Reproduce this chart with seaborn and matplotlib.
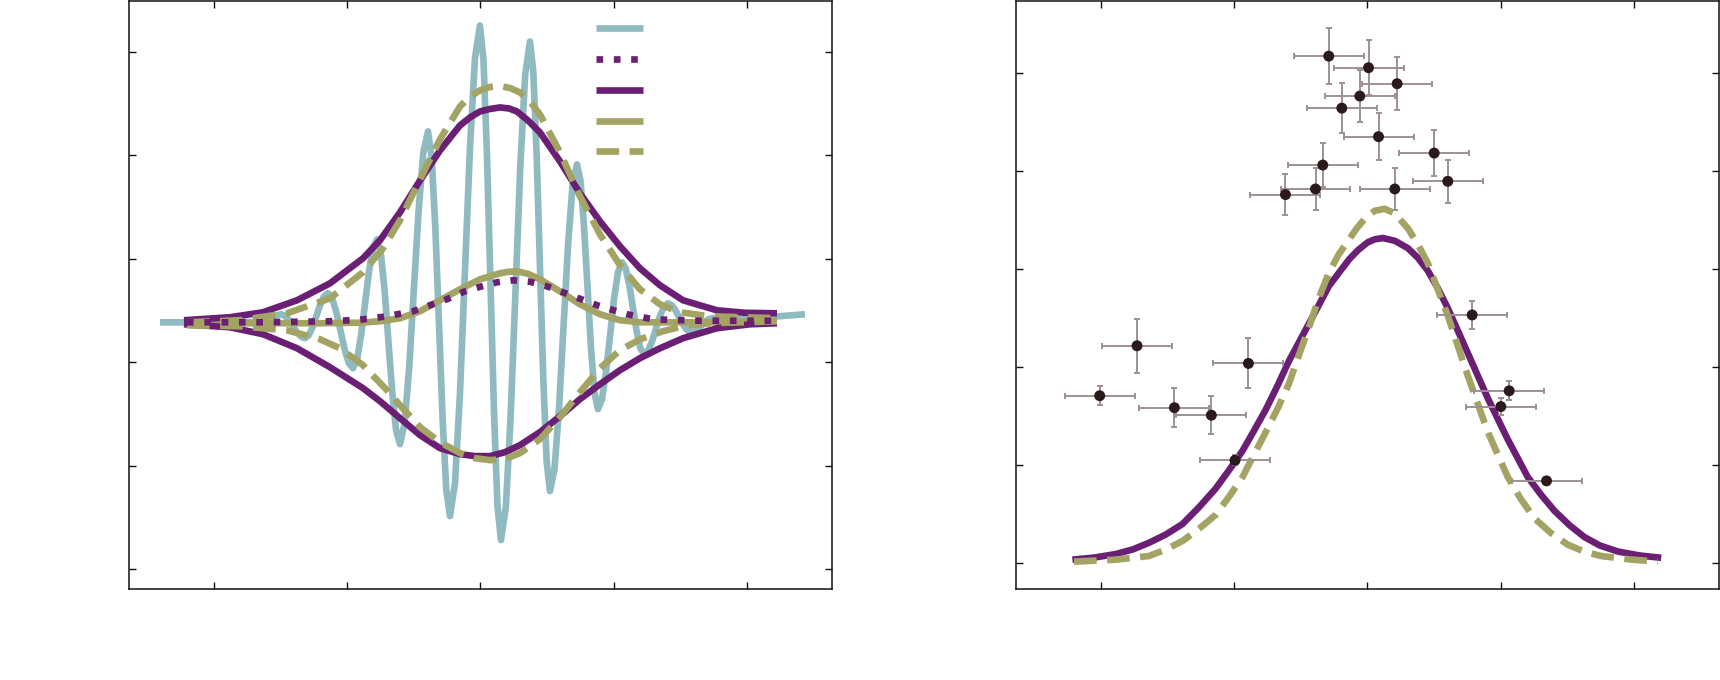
import numpy as np
import pandas as pd
import matplotlib
matplotlib.use("Agg")
import matplotlib.pyplot as plt
import seaborn as sns

# ---------------- data: left panel ----------------
wave_x = [-4.812, -3.761, -3.400, -3.200, -3.100, -2.995,
          -2.935, -2.875, -2.815, -2.755, -2.695, -2.635,
          -2.578, -2.520, -2.463, -2.405, -2.348, -2.290,
          -2.227, -2.165, -2.102, -2.039, -1.977, -1.914,
          -1.854, -1.794, -1.734, -1.674, -1.614, -1.554,
          -1.497, -1.439, -1.382, -1.324, -1.267, -1.209,
          -1.139, -1.069, -0.999, -0.928, -0.858, -0.788,
          -0.733, -0.678, -0.623, -0.568, -0.513, -0.458,
          -0.383, -0.308, -0.233, -0.158, -0.083, -0.008,
          0.045, 0.097, 0.150, 0.203, 0.255, 0.308,
          0.381, 0.453, 0.526, 0.598, 0.671, 0.743,
          0.793, 0.843, 0.893, 0.943, 0.993, 1.043,
          1.111, 1.178, 1.246, 1.314, 1.381, 1.449,
          1.502, 1.554, 1.607, 1.659, 1.712, 1.764,
          1.824, 1.884, 1.945, 2.005, 2.065, 2.125,
          2.180, 2.235, 2.290, 2.345, 2.400, 2.455,
          2.515, 2.575, 2.635, 2.695, 2.755, 2.815,
          2.873, 2.930, 2.988, 3.046, 3.103, 3.161,
          3.214, 3.266, 3.319, 3.371, 3.424, 3.476,
          3.896, 4.872]
wave_y = [0.386, 0.386, 0.390, 0.420, 0.445, 0.464,
          0.448, 0.406, 0.348, 0.290, 0.248, 0.232,
          0.261, 0.341, 0.450, 0.558, 0.638, 0.667,
          0.618, 0.486, 0.305, 0.123, -0.009, -0.058,
          0.025, 0.254, 0.565, 0.877, 1.105, 1.188,
          1.055, 0.693, 0.198, -0.297, -0.659, -0.792,
          -0.589, -0.036, 0.720, 1.476, 2.029, 2.232,
          1.983, 1.302, 0.372, -0.558, -1.239, -1.488,
          -1.170, -0.302, 0.884, 2.070, 2.938, 3.256,
          2.923, 2.012, 0.768, -0.476, -1.387, -1.720,
          -1.397, -0.515, 0.691, 1.896, 2.778, 3.101,
          2.810, 2.014, 0.928, -0.159, -0.955, -1.246,
          -1.034, -0.456, 0.334, 1.123, 1.701, 1.913,
          1.754, 1.321, 0.730, 0.138, -0.295, -0.454,
          -0.359, -0.099, 0.256, 0.611, 0.871, 0.966,
          0.906, 0.744, 0.522, 0.299, 0.137, 0.077,
          0.110, 0.200, 0.324, 0.447, 0.537, 0.570,
          0.551, 0.500, 0.430, 0.360, 0.309, 0.290,
          0.299, 0.324, 0.358, 0.391, 0.416, 0.425,
          0.415, 0.464]

env_up_x = [-4.452, -3.761, -3.266, -2.755, -2.260, -1.764, -1.509, -1.209, -0.908, -0.608,
            -0.308, -0.158, -0.008, 0.143, 0.293, 0.428, 0.548, 0.713, 0.893, 1.194, 1.494,
            1.794, 2.095, 2.395, 2.695, 3.041, 3.551, 3.971, 4.452]
env_up_y = [0.406, 0.435, 0.483, 0.599, 0.763, 1.005, 1.179, 1.449, 1.758, 2.048,
            2.290, 2.367, 2.425, 2.449, 2.464, 2.454, 2.425, 2.338, 2.222, 1.942, 1.633,
            1.362, 1.121, 0.908, 0.744, 0.599, 0.502, 0.478, 0.473]
env_lo_x = [-4.452, -3.761, -3.266, -2.755, -2.260, -1.764, -1.509, -1.209, -0.908, -0.608,
            -0.308, -0.083, 0.143, 0.368, 0.593, 0.893, 1.194, 1.494, 1.794, 2.095, 2.395,
            2.695, 3.041, 3.551, 4.047, 4.452]
env_lo_y = [0.367, 0.338, 0.271, 0.135, -0.048, -0.251, -0.377, -0.541, -0.705, -0.831,
            -0.889, -0.908, -0.908, -0.870, -0.802, -0.676, -0.522, -0.357, -0.213, -0.077, 0.039,
            0.135, 0.232, 0.329, 0.367, 0.377]

alt_up_x = [-4.407, -3.611, -2.905, -2.260, -1.764, -1.464, -1.209, -0.908, -0.608, -0.308,
            -0.158, -0.008, 0.143, 0.293, 0.443, 0.593, 0.743, 0.893, 1.194, 1.494, 1.794,
            2.095, 2.395, 2.695, 2.995, 3.446, 4.452]
alt_up_y = [0.386, 0.406, 0.473, 0.618, 0.870, 1.101, 1.372, 1.768, 2.155, 2.473,
            2.570, 2.628, 2.662, 2.671, 2.652, 2.609, 2.522, 2.396, 2.029, 1.604, 1.237,
            0.937, 0.705, 0.560, 0.483, 0.444, 0.425]
alt_lo_x = [-4.407, -3.611, -2.905, -2.410, -2.110, -1.764, -1.404, -1.209, -0.908, -0.608,
            -0.308, -0.083, 0.143, 0.368, 0.593, 0.893, 1.194, 1.494, 1.794, 2.095, 2.395,
            2.740, 3.041, 3.446, 4.452]
alt_lo_y = [0.357, 0.348, 0.309, 0.222, 0.135, -0.029, -0.271, -0.415, -0.628, -0.773,
            -0.879, -0.928, -0.947, -0.937, -0.879, -0.744, -0.531, -0.290, -0.058, 0.116, 0.222,
            0.300, 0.348, 0.377, 0.396]

bump_a_x = [-4.407, -3.461, -2.410, -1.809, -1.509, -1.209, -0.908, -0.608, -0.308, -0.008,
            0.293, 0.413, 0.548, 0.713, 0.893, 1.194, 1.494, 1.794, 2.095, 2.395, 3.296, 4.452]
bump_a_y = [0.377, 0.377, 0.377, 0.382, 0.396, 0.425, 0.493, 0.599, 0.705, 0.802,
            0.860, 0.874, 0.879, 0.855, 0.802, 0.686, 0.560, 0.464, 0.406, 0.386, 0.386, 0.396]
bump_b_x = [-4.407, -3.311, -2.260, -1.809, -1.404, -1.014, -0.758, -0.503, -0.233, -0.008,
            0.248, 0.488, 0.743, 0.998, 1.239, 1.749, 2.200, 2.590, 3.296, 4.452]
bump_b_y = [0.386, 0.386, 0.396, 0.411, 0.444, 0.493, 0.551, 0.609, 0.686, 0.729,
            0.773, 0.792, 0.778, 0.734, 0.676, 0.551, 0.464, 0.415, 0.401, 0.401]

# ---------------- data: right panel ----------------
fit_a_x = [-4.428, -4.093, -3.778, -3.523, -3.278, -3.027, -2.776, -2.532, -2.276, -2.081,
           -1.875, -1.706, -1.526, -1.345, -1.176, -0.875, -0.575, -0.275, -0.144, 0.006,
           0.111, 0.231, 0.411, 0.607, 0.757, 0.907, 1.057, 1.207, 1.508, 1.808,
           2.108, 2.408, 2.604, 2.809, 3.039, 3.260, 3.490, 3.760, 4.090, 4.410]
fit_a_y = [0.036, 0.058, 0.093, 0.140, 0.208, 0.292, 0.399, 0.567, 0.762, 0.944,
           1.145, 1.346, 1.565, 1.815, 2.063, 2.445, 2.828, 3.096, 3.189, 3.271,
           3.301, 3.314, 3.286, 3.211, 3.113, 2.981, 2.802, 2.599, 2.140, 1.680,
           1.260, 0.877, 0.700, 0.533, 0.384, 0.265, 0.180, 0.119, 0.078, 0.055]
fit_b_x = [-4.404, -3.778, -3.278, -3.027, -2.776, -2.532, -2.276, -2.081, -1.875, -1.706,
           -1.526, -1.345, -1.176, -1.045, -0.875, -0.730, -0.575, -0.429, -0.275, -0.159,
           -0.024, 0.111, 0.257, 0.411, 0.607, 0.757, 0.907, 1.207, 1.508, 1.808,
           2.108, 2.303, 2.509, 2.754, 3.009, 3.249, 3.509, 3.940, 4.360]
fit_b_y = [0.016, 0.036, 0.073, 0.140, 0.226, 0.348, 0.494, 0.674, 0.877, 1.102,
           1.336, 1.580, 1.833, 2.090, 2.407, 2.701, 2.965, 3.149, 3.301, 3.413,
           3.525, 3.592, 3.612, 3.566, 3.413, 3.251, 3.057, 2.521, 1.909, 1.336,
           0.877, 0.654, 0.456, 0.308, 0.188, 0.119, 0.073, 0.038, 0.016]

pts_x = [-4.018, -3.458, -2.897, -2.342, -1.987, -1.786, -1.230, -0.779, -0.670, -0.384, -0.580,
         -0.114, 0.017, 0.167, 0.411, 0.446, 1.002, 1.207, 1.572, 2.003, 2.128, 2.689]
pts_y = [1.707, 2.216, 1.585, 1.508, 1.049, 2.036, 3.757, 3.814, 4.058, 4.638, 5.168,
         4.761, 5.050, 4.347, 3.814, 4.887, 4.180, 3.892, 2.530, 1.596, 1.757, 0.839]
pts_yerr = [0.098, 0.275, 0.201, 0.191, 0.05, 0.255, 0.211, 0.212, 0.221, 0.257, 0.288,
            0.263, 0.283, 0.241, 0.212, 0.272, 0.234, 0.216, 0.146, 0.090, 0.098, 0.03]
pts_xerr = [0.525] * len(pts_x)

# ---------------- style ----------------
C_CYAN = "#8fbac0"
C_PURPLE = "#6b1f74"
C_OLIVE = "#a3a463"
C_DOT = "#2b1a1c"
C_ERR = "#9d9095"
LW = 4.8
DOTTED = (0, (1.0, 1.6))
DASHED = (0, (3.4, 1.57))

sns.set_theme(style="ticks")
plt.rcParams['font.family'] = ['DejaVu Sans']

fig = plt.figure(figsize=(17.2, 6.8), dpi=100)
W, H = 1720.0, 680.0
ax1 = fig.add_axes([129.3 / W, 1 - 589 / H, 702.7 / W, 588.5 / H])
ax2 = fig.add_axes([1016.3 / W, 1 - 589 / H, 702.2 / W, 588.5 / H])

def line(ax, x, y, color, ls="-", z=2):
    df = pd.DataFrame({"x": x, "y": y})
    sns.lineplot(data=df, x="x", y="y", ax=ax, color=color, lw=LW, linestyle=ls,
                 sort=False, estimator=None, zorder=z, legend=False)
    ln = ax.lines[-1]
    ln.set_solid_capstyle("butt")
    ln.set_dash_capstyle("butt")
    ln.set_solid_joinstyle("round")
    ln.set_dash_joinstyle("round")
    return ln

# left panel
h_wave = line(ax1, wave_x, wave_y, C_CYAN, "-", 2)
h_bump_a = line(ax1, bump_a_x, bump_a_y, C_OLIVE, "-", 3)
h_env = line(ax1, env_up_x, env_up_y, C_PURPLE, "-", 4)
line(ax1, env_lo_x, env_lo_y, C_PURPLE, "-", 4)
h_alt = line(ax1, alt_up_x, alt_up_y, C_OLIVE, DASHED, 5)
line(ax1, alt_lo_x, alt_lo_y, C_OLIVE, DASHED, 5)
h_bump_b = line(ax1, bump_b_x, bump_b_y, C_PURPLE, DOTTED, 6)

leg = ax1.legend([h_wave, h_bump_b, h_env, h_bump_a, h_alt], [""] * 5,
                 loc="upper left", bbox_to_anchor=(0.6636, 0.9664), frameon=False,
                 fontsize=12, handlelength=2.82, labelspacing=0.765,
                 borderpad=0, borderaxespad=0, handletextpad=0.2)

ax1.set_xlim(-5.273, 5.278)
ax1.set_ylim(-2.193, 3.498)
ax1.set_xticks([-4, -2, 0, 2, 4])
ax1.set_yticks([-2, -1, 0, 1, 2, 3])

# right panel
line(ax2, fit_a_x, fit_a_y, C_PURPLE, "-", 3)
line(ax2, fit_b_x, fit_b_y, C_OLIVE, DASHED, 4)
ax2.errorbar(pts_x, pts_y, xerr=pts_xerr, yerr=pts_yerr, fmt="none", ecolor=C_ERR,
             elinewidth=1.4, capsize=2.3, capthick=1.4, zorder=5)
sns.scatterplot(x=pts_x, y=pts_y, ax=ax2, color=C_DOT, s=62, edgecolor="none",
                zorder=6, legend=False)

ax2.set_xlim(-5.27, 5.27)
ax2.set_ylim(-0.263, 5.735)
ax2.set_xticks([-4, -2, 0, 2, 4])
ax2.set_yticks([0, 1, 2, 3, 4, 5])

for ax in (ax1, ax2):
    ax.set_xlabel("")
    ax.set_ylabel("")
    ax.set_facecolor("white")
    for sp in ax.spines.values():
        sp.set_visible(True)
        sp.set_linewidth(1.1)
        sp.set_color("#111111")
    ax.tick_params(direction="in", length=4.8, width=1.0, color="#111111",
                   top=True, right=True, bottom=True, left=True,
                   labelbottom=False, labelleft=False, labeltop=False, labelright=False)
    ax.grid(False)

fig.savefig("out.png", dpi=100, facecolor="white")
